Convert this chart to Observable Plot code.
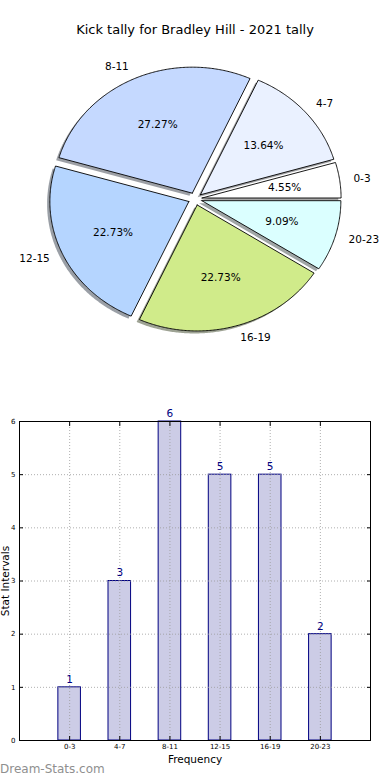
<!DOCTYPE html>
<html><head><meta charset="utf-8">
<script src="https://cdn.jsdelivr.net/npm/d3@7"></script>
<script src="https://cdn.jsdelivr.net/npm/@observablehq/plot@0.6"></script>
<style>
body{margin:0;background:#fff;width:390px;height:780px;position:relative;overflow:hidden;font-family:"DejaVu Sans",sans-serif;}
#pie{position:absolute;top:0;left:0;}
#title{position:absolute;top:22px;left:0;width:390px;text-align:center;font-size:13px;line-height:16px;color:#000;}
#bar{position:absolute;top:400px;left:0;}
#xlab{position:absolute;top:753px;left:0;width:390px;text-align:center;font-size:10.5px;line-height:12px;}
#ylab{position:absolute;left:-55px;top:575px;width:120px;text-align:center;font-size:10.5px;line-height:12px;transform:rotate(-90deg);transform-origin:50% 50%;}
#wm{position:absolute;left:0;top:762px;font-size:12px;line-height:14px;color:#8f8f8f;}
</style></head><body>
<div id="pie"></div>
<div id="title"></div>
<div id="bar"></div>
<div id="xlab"></div>
<div id="ylab"></div>
<div id="wm"></div>
<script>
const titleText = "Kick tally for Bradley Hill - 2021 tally";
const categories = ["0-3", "4-7", "8-11", "12-15", "16-19", "20-23"];
const counts = [1, 3, 6, 5, 5, 2];
const sliceColors = ["#ffffff", "#eaf1ff", "#c5d9ff", "#b5d5ff", "#d0eb8a", "#dbffff"];
const yTicks = [0, 1, 2, 3, 4, 5, 6];
const xAxisLabel = "Frequency";
const yAxisLabel = "Stat Intervals";
const watermark = "Dream-Stats.com";

document.getElementById("title").textContent = titleText;
document.getElementById("xlab").textContent = xAxisLabel;
document.getElementById("ylab").textContent = yAxisLabel;
document.getElementById("wm").textContent = watermark;

const FONT = "DejaVu Sans";

// ---------- Pie ----------
const PIE_W = 390, PIE_H = 370, CX = 194.7, CY = 198.4, RX = 139, RY = 126;
const EXPLODE = 0.05, SHADOW = 0.02, LABEL_D = 1.1, PCT_D = 0.6;
const total = d3.sum(counts);
let acc = 0;
const slices = categories.map((cat, i) => {
  const a0 = acc / total * 2 * Math.PI;
  acc += counts[i];
  const a1 = acc / total * 2 * Math.PI;
  const am = (a0 + a1) / 2;
  return {cat, i, a0, a1, am,
    ox: EXPLODE * Math.cos(am), oy: EXPLODE * Math.sin(am),
    color: sliceColors[i],
    pct: (counts[i] / total * 100).toFixed(2) + "%"};
});
function wedge(s, dx, dy) {
  const n = Math.max(8, Math.ceil((s.a1 - s.a0) / 0.01));
  const pts = [{x: s.ox + dx, y: s.oy + dy}];
  for (let k = 0; k <= n; k++) {
    const a = s.a0 + (s.a1 - s.a0) * k / n;
    pts.push({x: s.ox + dx + Math.cos(a), y: s.oy + dy + Math.sin(a)});
  }
  pts.push({x: s.ox + dx, y: s.oy + dy});
  return pts;
}
const shadowMarks = slices.map(s => {
  const c = d3.rgb(s.color);
  const sc = d3.rgb(c.r * 0.3, c.g * 0.3, c.b * 0.3).toString();
  return Plot.line(wedge(s, -SHADOW, -SHADOW), {x: "x", y: "y", fill: sc, fillOpacity: 0.5, stroke: "none"});
});
const wedgeMarks = slices.map(s =>
  Plot.line(wedge(s, 0, 0), {x: "x", y: "y", fill: s.color, stroke: "#000", strokeWidth: 0.9, strokeLinejoin: "miter"})
);
const labelPts = slices.map(s => ({
  x: s.ox + LABEL_D * Math.cos(s.am), y: s.oy + LABEL_D * Math.sin(s.am), text: s.cat,
  right: Math.cos(s.am) >= 0
}));
const pctPts = slices.map(s => ({
  x: s.ox + PCT_D * Math.cos(s.am), y: s.oy + PCT_D * Math.sin(s.am), text: s.pct
}));
const pie = Plot.plot({
  width: PIE_W, height: PIE_H, margin: 0,
  style: {fontFamily: FONT, background: "transparent"},
  x: {domain: [-CX / RX, (PIE_W - CX) / RX], axis: null},
  y: {domain: [-(PIE_H - CY) / RY, CY / RY], axis: null},
  marks: [
    ...shadowMarks,
    ...wedgeMarks,
    Plot.text(labelPts.filter(d => d.right), {x: "x", y: "y", text: "text", textAnchor: "start", fontSize: 10.5, fill: "#000"}),
    Plot.text(labelPts.filter(d => !d.right), {x: "x", y: "y", text: "text", textAnchor: "end", fontSize: 10.5, fill: "#000"}),
    Plot.text(pctPts, {x: "x", y: "y", text: "text", textAnchor: "middle", fontSize: 10.5, fill: "#000"})
  ]
});
document.getElementById("pie").appendChild(pie);

// ---------- Bars ----------
const BAR_W = 0.45;
const bars = categories.map((cat, i) => ({i, cat, v: counts[i]}));
const idx = d3.range(categories.length);
const gridStyle = {stroke: "#9a9a9a", strokeOpacity: 1, strokeWidth: 0.8, strokeDasharray: "1,2"};
const bar = Plot.plot({
  width: 390, height: 380,
  marginLeft: 19, marginRight: 20, marginTop: 21, marginBottom: 40,
  style: {fontFamily: FONT, background: "transparent"},
  x: {domain: [-1, categories.length], axis: null},
  y: {domain: [0, 6], axis: null},
  marks: [
    Plot.rectY(bars, {x1: d => d.i - BAR_W / 2, x2: d => d.i + BAR_W / 2, y: "v", fill: "#ccccE6", stroke: "#000080", strokeWidth: 1}),
    Plot.gridX(idx, gridStyle),
    Plot.gridY(yTicks, gridStyle),
    Plot.text(bars, {x: "i", y: "v", text: "v", dy: -8, fill: "#000080", fontSize: 10.5}),
    Plot.frame({stroke: "#000", strokeWidth: 1}),
    Plot.axisX(idx, {anchor: "bottom", label: null, tickSize: 0, tickPadding: 4, tickFormat: i => categories[i], fontSize: 7, fill: "#000"}),
    Plot.axisX(idx, {anchor: "bottom", label: null, tickSize: -4, tickFormat: () => ""}),
    Plot.axisX(idx, {anchor: "top", label: null, tickSize: -4, tickFormat: () => ""}),
    Plot.axisY(yTicks, {anchor: "left", label: null, tickSize: 0, tickPadding: 4, tickFormat: d => String(d), fontSize: 7, fill: "#000"}),
    Plot.axisY(yTicks, {anchor: "left", label: null, tickSize: -4, tickFormat: () => ""}),
    Plot.axisY(yTicks, {anchor: "right", label: null, tickSize: -4, tickFormat: () => ""})
  ]
});
document.getElementById("bar").appendChild(bar);
</script>
</body></html>
